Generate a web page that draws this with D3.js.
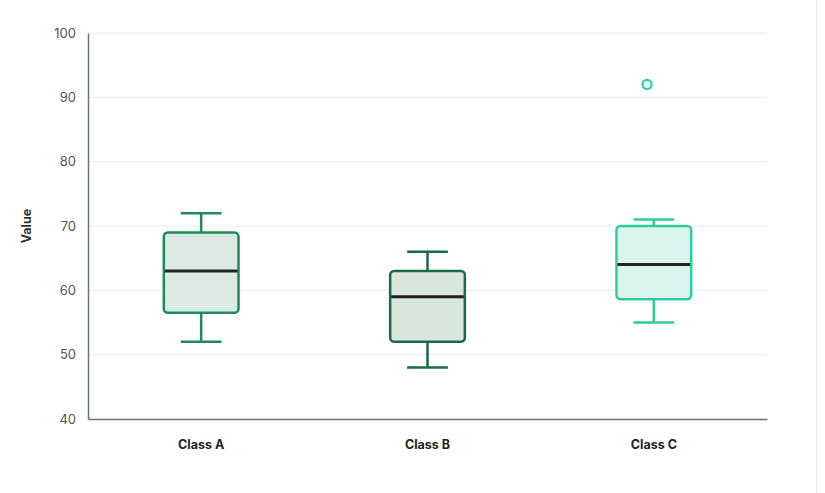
<!DOCTYPE html>
<html>
<head>
<meta charset="utf-8">
<script src="https://cdn.jsdelivr.net/npm/d3@7"></script>
<style>
  body { margin: 0; background: #fff; font-family: Inter, "Noto Sans", sans-serif; }
  .tick text { font-family: Inter, "Noto Sans", sans-serif; }
</style>
</head>
<body>
<div id="chart"></div>
<script>
// data
let classes = ["Class A", "Class B", "Class C"];
let whiskerLow = [52, 48, 55];
let q1 = [56.5, 52, 58.6];
let median = [63, 59, 64];
let q3 = [69, 63, 70];
let whiskerHigh = [72, 66, 71];
let outliers = [[], [], [92]];
let yTicks = [40, 50, 60, 70, 80, 90, 100];

let strokeColors = ["#1f8a5a", "#1a6b45", "#2ecc9b"];
let fillColors = ["#dbeae2", "#d8e6dd", "#dbf5ee"];

let width = 825, height = 493;
let margin = { top: 33, right: 58, bottom: 74, left: 88 };

let svg = d3.select("#chart")
    .append("svg")
    .attr("width", width)
    .attr("height", height);

let xScale = d3.scaleBand()
    .domain(classes)
    .range([margin.left, width - margin.right]);

let yScale = d3.scaleLinear()
    .domain([40, 100])
    .range([height - margin.bottom, margin.top]);

// grid
svg.append("g")
    .selectAll("line")
    .data(yTicks.slice(1))
    .join("line")
    .attr("x1", margin.left)
    .attr("x2", width - margin.right)
    .attr("y1", d => yScale(d))
    .attr("y2", d => yScale(d))
    .attr("stroke", "#ececec")
    .attr("stroke-width", 1);

// y axis
let yAxis = d3.axisLeft(yScale).tickValues(yTicks).tickSize(0).tickPadding(12);
let gy = svg.append("g")
    .attr("transform", "translate(" + margin.left + ",0)")
    .call(yAxis);
gy.select(".domain").attr("stroke", "#6b7280").attr("stroke-width", 1.5);
gy.selectAll("text").attr("fill", "#555").attr("font-size", 13);

// x axis
let xAxis = d3.axisBottom(xScale).tickSize(0).tickPadding(21);
let gx = svg.append("g")
    .attr("transform", "translate(0," + (height - margin.bottom) + ")")
    .call(xAxis);
gx.select(".domain").attr("stroke", "#6b7280").attr("stroke-width", 1.5);
gx.selectAll("text").attr("fill", "#222").attr("font-size", 12.5).attr("font-weight", "bold");

// y label
svg.append("text")
    .attr("transform", "translate(31," + ((margin.top + height - margin.bottom) / 2) + ") rotate(-90)")
    .attr("text-anchor", "middle")
    .attr("font-size", 12.5)
    .attr("font-weight", "bold")
    .attr("fill", "#333")
    .text("Value");

// boxes
let boxW = xScale.bandwidth() * 0.33;
let capW = xScale.bandwidth() * 0.18;
let outlierShift = -xScale.bandwidth() * 0.03;

classes.forEach(function (c, i) {
    let cx = xScale(c) + xScale.bandwidth() / 2;
    let g = svg.append("g");
    let col = strokeColors[i];

    // whiskers
    g.append("line")
        .attr("x1", cx).attr("x2", cx)
        .attr("y1", yScale(whiskerHigh[i])).attr("y2", yScale(q3[i]))
        .attr("stroke", col).attr("stroke-width", 2.5);
    g.append("line")
        .attr("x1", cx).attr("x2", cx)
        .attr("y1", yScale(q1[i])).attr("y2", yScale(whiskerLow[i]))
        .attr("stroke", col).attr("stroke-width", 2.5);
    [whiskerHigh[i], whiskerLow[i]].forEach(function (v) {
        g.append("line")
            .attr("x1", cx - capW / 2).attr("x2", cx + capW / 2)
            .attr("y1", yScale(v)).attr("y2", yScale(v))
            .attr("stroke", col).attr("stroke-width", 2.5);
    });

    // box
    g.append("rect")
        .attr("x", cx - boxW / 2)
        .attr("y", yScale(q3[i]))
        .attr("width", boxW)
        .attr("height", yScale(q1[i]) - yScale(q3[i]))
        .attr("rx", 4)
        .attr("fill", fillColors[i])
        .attr("stroke", col)
        .attr("stroke-width", 2.5);

    // median
    g.append("line")
        .attr("x1", cx - boxW / 2 + 1).attr("x2", cx + boxW / 2 - 1)
        .attr("y1", yScale(median[i])).attr("y2", yScale(median[i]))
        .attr("stroke", "#222").attr("stroke-width", 3);

    // outliers
    g.selectAll("circle")
        .data(outliers[i])
        .join("circle")
        .attr("cx", cx + outlierShift)
        .attr("cy", d => yScale(d))
        .attr("r", 4.5)
        .attr("fill", "#fff")
        .attr("stroke", col)
        .attr("stroke-width", 2.2);
});

// right border of the container
svg.append("line")
    .attr("x1", 816.5).attr("x2", 816.5)
    .attr("y1", 0).attr("y2", height)
    .attr("stroke", "#e5e7eb").attr("stroke-width", 1);
</script>
</body>
</html>
